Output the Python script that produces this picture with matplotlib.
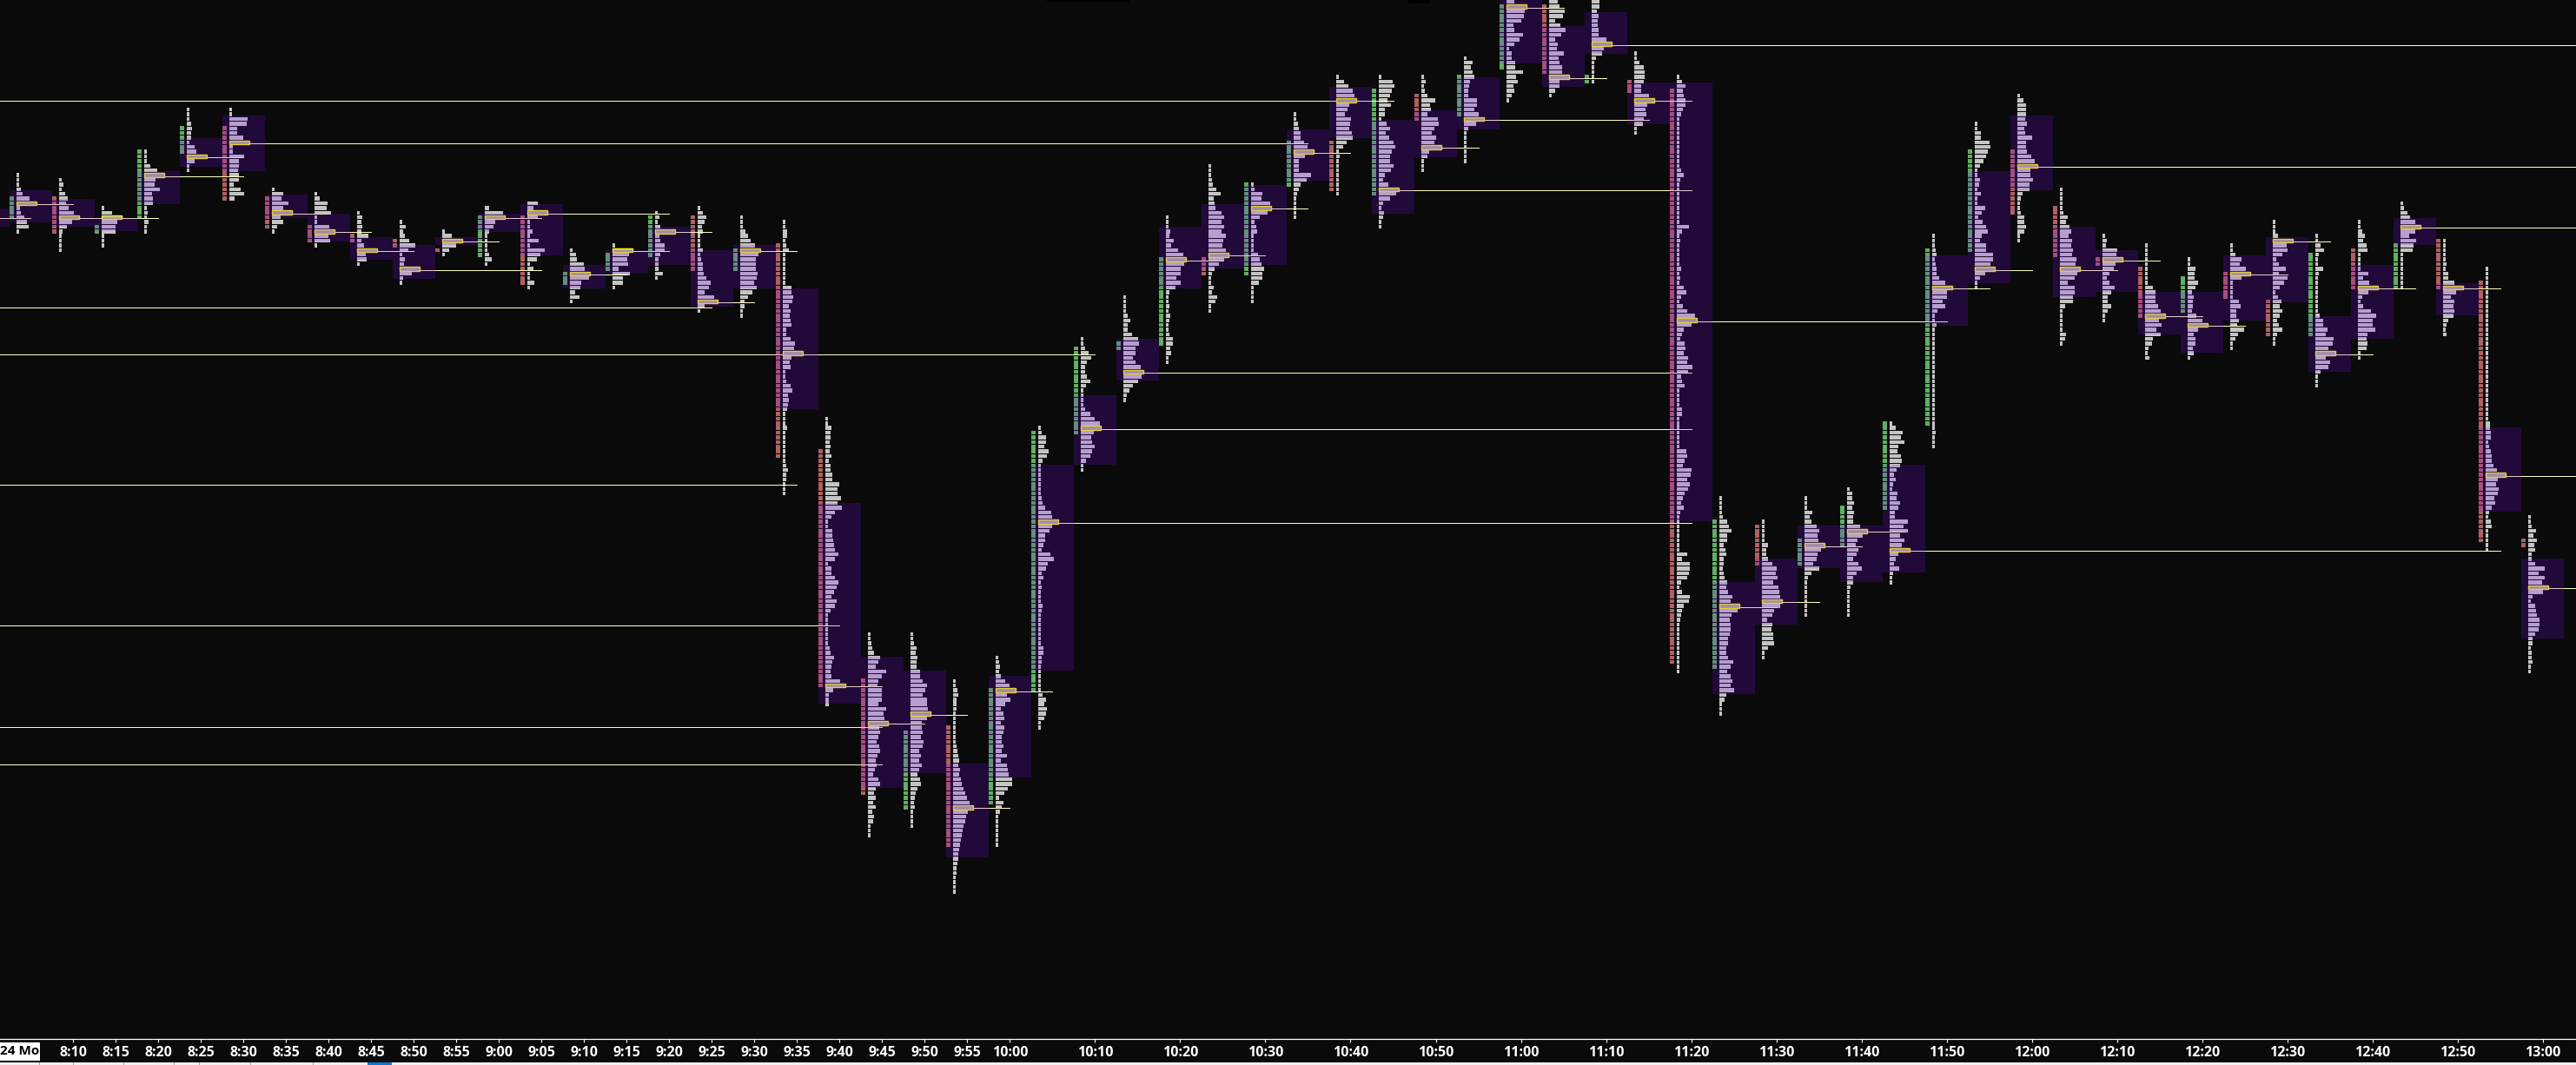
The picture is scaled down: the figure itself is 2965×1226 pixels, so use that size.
import matplotlib
matplotlib.use("Agg")
import matplotlib.pyplot as plt
from matplotlib.patches import Rectangle

# Session start of each 5 minute column, minutes after midnight (8:00 is only half on screen)
col_times = [480, 485, 490, 495, 500, 505, 510, 515, 520, 525, 530, 535, 540, 545, 550, 555,
             560, 565, 570, 575, 580, 585, 590, 595, 600, 605, 610, 615, 620, 625, 630, 635,
             640, 645, 650, 655, 660, 665, 670, 675, 680, 685, 690, 695, 700, 705, 710, 715,
             720, 725, 730, 735, 740, 745, 750, 755, 760, 765, 770, 775, 780]

# Price rows are counted down from the top of the screen
top_rows = [46, 37, 38, 44, 32, 23, 23, 40, 41, 45, 47, 49, 44, 43, 53, 52, 45, 44, 46, 47,
            89, 135, 135, 145, 140, 91, 72, 63, 46, 35, 39, 24, 16, 16, 16, 12, 0, 0, 0, 11,
            16, 106, 111, 106, 104, 90, 50, 26, 20, 40, 50, 52, 55, 52, 47, 50, 47, 43, 51, 57, 110]
poc_rows = [46, 43, 46, 46, 37, 33, 30, 45, 49, 53, 57, 51, 46, 45, 58, 53, 49, 64, 53, 75,
            146, 154, 152, 172, 147, 111, 91, 79, 55, 54, 44, 32, 21, 40, 31, 25, 1, 16, 9, 21,
            68, 129, 128, 116, 113, 117, 61, 57, 35, 57, 55, 67, 69, 58, 51, 75, 61, 48, 61, 101, 125]

# Open levels run on to the column that traded through them, None means still open
poc_end_times = [485, 490, 495, 500, 510, 510, 635, 520, 525, 530, 545, 540, 545, 560, 555, 560,
                 565, 570, 575, 610, 585, 590, 595, 600, 605, 680, 680, 680, 625, 630, 635, 640,
                 645, 680, 655, 675, 665, 670, None, 680, 710, 690, 695, 700, 705, 775, 715, 720,
                 None, 730, 735, 740, 745, 750, 755, 760, 765, None, 775, None, None]

va_tops = [44.1, 40.2, 42.1, 46.2, 36.2, 29.1, 24.3, 41.1, 45.2, 50.2, 52.0, 50.2, 45.2, 43.1, 56.1, 53.1, 48.1, 53.1,
           52.0, 61.1, 107.0, 139.8, 142.8, 162.7, 143.9, 98.9, 84.1, 72.0, 48.1, 43.1, 39.1, 27.2, 18.2, 25.2, 23.1,
           16.1, -1.0, 5.2, 2.2, 17.2, 17.2, 123.9, 118.9, 111.9, 111.9, 98.9, 54.1, 36.1, 24.3, 48.1, 53.1, 62.0, 62.0,
           54.1, 50.2, 67.1, 56.1, 46.1, 60.0, 90.9, 118.9]
va_bots = [48.1, 47.0, 48.1, 49.0, 43.1, 35.2, 36.1, 46.1, 51.1, 55.0, 59.1, 52.0, 49.1, 54.1, 61.1, 58.1, 56.1, 65.0,
           61.1, 87.0, 149.8, 167.8, 164.8, 182.8, 165.7, 142.8, 98.9, 80.9, 61.1, 57.0, 56.1, 38.2, 29.0, 45.2, 33.1,
           27.2, 13.1, 18.1, 11.1, 26.1, 110.9, 147.8, 133.0, 120.9, 123.9, 121.9, 69.1, 60.0, 40.2, 63.1, 62.0, 71.1, 75.0,
           68.0, 64.1, 79.0, 72.0, 52.0, 67.0, 108.9, 136.0]

# Sidebar of each column: first row, last row and direction (1 up, -1 down)
side_tops = [0, 42, 42, 48, 32, 27, 27, 42, 48, 50, 51, 53, 46, 46, 58, 54, 46, 46, 53, 52, 96, 145, 156, 155, 147,
             92, 74, 73, 55, 55, 39, 30, 30, 19, 20, 16, 1, 1, 16, 17, 19, 111, 112, 115, 108, 90, 53, 32, 32, 44, 55,
             57, 59, 58, 64, 54, 53, 52, 51, 60, 115]
side_bots = [-1, 46, 49, 49, 46, 32, 42, 48, 51, 51, 52, 53, 54, 60, 60, 57, 54, 57, 57, 97, 146, 169, 172, 180, 171,
             147, 92, 74, 73, 58, 58, 39, 40, 41, 25, 24, 14, 15, 17, 19, 141, 142, 120, 120, 116, 108, 90, 53, 45, 54,
             56, 67, 66, 63, 71, 71, 61, 61, 61, 115, 116]
side_dirs = [1, 1, -1, 1, 1, 1, -1, -1, -1, -1, -1, -1, 1, -1, 1, 1, 1, -1, 1, -1, -1, -1, 1, -1, 1,
             1, 1, 1, 1, -1, 1, 1, -1, 1, -1, 1, 1, -1, 1, -1, -1, 1, -1, 1, 1, 1, 1, 1, -1, -1,
             -1, -1, 1, -1, -1, 1, -1, 1, -1, -1, -1]

# Volume at each price row, one list per column
profiles = [
    [],
    [3, 3, 3, 5, 7, 15, 23, 4, 5, 9, 12, 14, 3],
    [3, 5, 3, 7, 10, 8, 11, 17, 23, 15, 9, 4, 3, 3, 3, 3],
    [3, 12, 23, 18, 16, 16, 3, 3, 3],
    [3, 3, 3, 7, 15, 23, 13, 12, 18, 9, 10, 10, 3, 4, 3, 5, 3, 3],
    [3, 3, 3, 5, 6, 5, 5, 3, 9, 11, 23, 9, 3, 3],
    [3, 3, 21, 20, 9, 9, 16, 23, 4, 4, 17, 11, 11, 10, 11, 11, 5, 13, 17, 6],
    [3, 13, 11, 19, 13, 23, 10, 13, 6, 3],
    [3, 6, 15, 14, 19, 3, 3, 17, 23, 16, 18, 3],
    [3, 6, 5, 6, 5, 13, 5, 8, 23, 10, 11, 3],
    [3, 7, 4, 6, 11, 18, 10, 3, 6, 5, 23, 14, 4, 3],
    [3, 11, 23, 16, 8, 3],
    [5, 21, 23, 12, 10, 5, 3, 3, 3, 3, 5, 8, 3],
    [12, 7, 23, 12, 3, 3, 6, 3, 13, 3, 20, 15, 11, 3, 7, 3, 3, 8, 3],
    [3, 7, 8, 16, 17, 23, 22, 13, 12, 6, 11, 3],
    [3, 23, 19, 17, 18, 7, 20, 12, 12, 3],
    [3, 5, 3, 6, 23, 5, 6, 11, 11, 6, 4, 4, 4, 9, 3],
    [3, 6, 10, 8, 5, 6, 3, 3, 3, 6, 3, 4, 6, 6, 7, 10, 15, 13, 8, 19, 23, 8, 3],
    [3, 3, 3, 6, 9, 12, 17, 23, 21, 18, 18, 18, 20, 19, 16, 19, 14, 9, 5, 5, 3, 3],
    [3, 3, 5, 5, 3, 4, 7, 3, 3, 3, 3, 3, 3, 3, 10, 10, 12, 11, 7, 9, 8, 9, 10, 4, 4, 9, 14, 13, 23,
     10, 8, 9, 3, 3, 4, 9, 11, 6, 7, 6, 5, 3, 3, 3, 5, 3, 3, 3, 3, 3, 3, 3, 4, 6, 4, 4, 3, 3, 3],
    [3, 3, 7, 6, 6, 5, 6, 5, 7, 4, 6, 6, 8, 8, 16, 14, 14, 18, 14, 19, 11, 7, 3, 3, 8, 8, 9, 10, 11, 15, 11, 3,
     7, 7, 11, 15, 13, 10, 7, 13, 11, 6, 3, 3, 3, 3, 3, 3, 3, 5, 6, 10, 8, 7, 6, 7, 17, 23, 9, 4, 4, 4],
    [3, 3, 4, 5, 7, 14, 12, 9, 21, 16, 12, 11, 16, 16, 16, 12, 21, 18, 19, 23, 13,
     14, 12, 10, 13, 14, 11, 9, 10, 8, 6, 12, 14, 9, 7, 9, 6, 9, 5, 7, 6, 3, 3, 3],
    [3, 3, 4, 7, 6, 8, 7, 7, 11, 11, 14, 19, 17, 14, 19, 19, 20, 23, 19, 13, 13,
     14, 12, 15, 14, 10, 12, 10, 13, 10, 8, 11, 12, 8, 6, 5, 4, 5, 3, 3, 3, 3],
    [3, 3, 5, 6, 4, 4, 4, 3, 3, 3, 3, 3, 3, 3, 4, 5, 6, 7, 6, 8, 7, 9, 10, 12, 14, 16, 19, 23,
     17, 15, 14, 12, 11, 10, 9, 8, 7, 6, 6, 5, 4, 4, 3, 3, 3, 3],
    [3, 4, 5, 4, 6, 11, 16, 23, 13, 17, 11, 6, 9, 10, 6, 10, 9, 7, 7, 9, 7, 13, 6, 13, 14, 15, 19, 19, 14, 10, 4,
     9, 7, 5, 3, 3, 3, 3, 3, 3, 3],
    [3, 4, 9, 9, 7, 12, 10, 5, 3, 3, 3, 3, 3, 3, 3, 4, 5, 8, 15, 16, 23, 16, 13, 8, 8, 6, 4, 14, 18, 11, 9, 4, 6, 3,
     4, 3, 3, 3, 5, 4, 3, 3, 3, 3, 3, 3, 3, 6, 6, 4, 4, 3, 3, 3, 3, 3, 3, 5, 9, 7, 10, 9, 7, 3, 3],
    [3, 3, 5, 9, 12, 7, 5, 5, 7, 11, 6, 3, 3, 3, 3, 5, 11, 16, 22, 23, 15, 12, 13, 16, 13, 11, 6, 3, 3],
    [3, 3, 3, 3, 5, 8, 5, 5, 10, 17, 18, 14, 14, 11, 14, 20, 23, 21, 17, 11, 7, 4, 3],
    [3, 3, 3, 5, 4, 9, 6, 14, 20, 23, 21, 17, 17, 12, 17, 11, 4, 3, 3, 4, 3, 5, 4, 3, 3, 4, 8, 8, 5, 6, 3, 3],
    [3, 3, 3, 4, 5, 9, 14, 6, 7, 8, 15, 18, 15, 18, 15, 20, 17, 16, 20, 23, 18, 12, 7, 4, 3, 3, 6, 4, 10, 8, 3, 3],
    [3, 4, 13, 12, 22, 23, 19, 10, 4, 6, 7, 3, 3, 3, 3, 8, 10, 12, 15, 13, 13, 9, 3, 3, 3, 3],
    [3, 3, 5, 6, 8, 8, 12, 16, 23, 13, 6, 6, 6, 20, 15, 8, 6, 4, 3, 3, 3, 3, 3],
    [3, 9, 14, 19, 21, 23, 15, 13, 10, 17, 16, 15, 18, 19, 12, 8, 3, 4, 3, 3, 3, 3, 3, 3, 3, 3],
    [3, 16, 18, 15, 13, 10, 14, 7, 7, 3, 9, 13, 8, 12, 17, 19, 15, 13, 13, 17, 14, 7, 5, 11, 23, 20, 13, 5, 3, 6, 5, 3, 3],
    [3, 5, 3, 4, 7, 16, 10, 11, 7, 19, 20, 15, 12, 17, 15, 23, 9, 7, 3, 3, 3],
    [3, 10, 8, 10, 12, 7, 6, 5, 5, 15, 15, 12, 17, 23, 14, 5, 3, 3, 3, 3, 3, 3, 3],
    [9, 23, 21, 20, 17, 8, 9, 19, 15, 9, 3, 6, 6, 10, 10, 19, 11, 13, 8, 9, 6, 3],
    [10, 12, 18, 16, 7, 13, 19, 14, 7, 10, 9, 17, 11, 12, 15, 15, 23, 12, 12, 7, 3],
    [9, 9, 6, 8, 7, 7, 8, 8, 17, 23, 14, 12, 5, 3, 3, 3, 3, 3],
    [3, 3, 6, 11, 12, 12, 11, 8, 8, 17, 23, 15, 13, 14, 11, 10, 3, 3],
    [3, 6, 10, 7, 8, 10, 10, 7, 5, 3, 3, 3, 3, 3, 3, 3, 3, 3, 3, 3, 5, 8, 4, 3, 3, 3, 3, 3, 3, 3, 3, 3, 14, 6,
     3, 4, 3, 3, 3, 3, 3, 5, 3, 4, 3, 8, 11, 5, 3, 7, 12, 21, 23,
     17, 8, 6, 4, 9, 10, 8, 13, 12, 18, 13, 5, 6, 9, 3, 3, 3, 3, 6, 6, 3, 3, 3, 3,
     3, 3, 3, 11, 12, 9, 7, 17, 16, 12, 15, 13, 9, 7, 5, 8, 4, 3, 3, 3, 3, 3, 3, 3, 3,
     12, 6, 15, 15, 14, 12, 5, 3, 6, 15, 14, 8, 6, 5, 4, 3, 3, 3, 3, 3, 3, 3, 3, 3, 3, 3],
    [3, 3, 3, 3, 4, 9, 11, 14, 9, 9, 5, 7, 8, 5, 5, 4, 5, 6, 9, 8, 10, 15, 13, 23, 21, 14, 12, 13, 13, 12, 10, 10, 8, 8,
     10, 16, 13, 9, 13, 15, 13, 17, 8, 6, 3, 3, 3],
    [3, 3, 3, 3, 3, 7, 5, 5, 7, 12, 17, 16, 18, 13, 19, 20, 21, 23, 21, 14, 12, 6, 12, 11, 13, 13, 14, 7, 3, 3],
    [3, 3, 3, 9, 6, 8, 14, 17, 15, 16, 23, 19, 15, 14, 10, 17, 8, 4, 3, 3, 3, 3, 3, 3, 3, 3],
    [3, 6, 6, 8, 6, 8, 7, 7, 15, 23, 18, 12, 10, 13, 11, 7, 13, 17, 11, 7, 7, 4, 3, 3, 3, 3, 3, 3],
    [3, 7, 15, 13, 17, 10, 9, 13, 14, 12, 8, 5, 7, 4, 3, 9, 8, 12, 10, 6, 6, 21, 16, 21, 12, 17, 14, 23, 10, 7, 5, 11, 4, 3, 3],
    [3, 3, 3, 4, 5, 3, 4, 5, 5, 8, 15, 23, 17, 17, 12, 15, 6, 3, 3, 5,
     3, 3, 3, 3, 3, 3, 3, 3, 3, 3, 3, 3, 3, 3, 3, 3, 3, 3, 3, 3, 3, 3, 4, 3, 3, 3],
    [3, 3, 7, 7, 17, 18, 15, 13, 10, 6, 3, 3, 6, 5, 3, 7, 3, 3, 12, 8, 4, 9, 13, 15, 8, 6, 13, 13, 21, 21, 18, 23, 12, 6, 3, 3],
    [3, 7, 10, 10, 10, 9, 11, 8, 9, 17, 10, 10, 11, 16, 20, 23, 15, 15, 18, 14, 14, 6, 4, 3, 3, 4, 8, 8, 10, 8, 3, 3],
    [3, 3, 3, 3, 3, 4, 9, 7, 11, 13, 10, 14, 13, 15, 14, 19, 18, 23, 20, 17, 9, 17, 17, 15, 15, 6, 3, 3, 3, 3, 3, 7, 6, 3],
    [3, 5, 4, 17, 16, 23, 15, 13, 8, 5, 8, 14, 10, 6, 6, 10, 6, 3, 3],
    [3, 3, 3, 3, 3, 3, 3, 3, 3, 9, 12, 12, 12, 15, 18, 23, 16, 19, 13, 18, 9, 8, 4, 3, 5],
    [3, 3, 9, 8, 8, 12, 9, 5, 7, 6, 6, 5, 10, 17, 23, 12, 7, 9, 9, 6, 7, 3],
    [3, 3, 6, 13, 11, 18, 23, 13, 3, 3, 3, 3, 10, 12, 7, 7, 10, 8, 16, 9, 6, 3, 3],
    [3, 3, 3, 6, 23, 16, 17, 11, 4, 7, 15, 7, 17, 13, 8, 3, 6, 10, 8, 11, 8, 5, 7, 11, 5, 3, 3],
    [3, 3, 6, 10, 4, 3, 3, 9, 4, 3, 3, 3, 3, 3, 3, 3, 3, 5, 9, 9, 14, 12, 21, 20, 15, 23, 12, 17, 15, 6, 3, 3, 3],
    [3, 3, 5, 8, 6, 10, 11, 3, 3, 3, 3, 12, 6, 13, 23, 12, 5, 3, 6, 15, 21, 17, 17, 20, 11, 10, 11, 10, 3, 3],
    [3, 4, 8, 11, 17, 23, 17, 10, 18, 15, 14, 3, 3, 3, 3, 3, 3, 3, 3],
    [3, 3, 3, 3, 3, 4, 3, 6, 6, 13, 23, 15, 9, 13, 12, 13, 12, 6, 4, 3, 4],
    [3, 3, 3, 3, 3, 3, 3, 3, 3, 3, 3, 3, 3, 3, 3, 3, 3, 3, 3, 3, 3, 3, 3, 3, 3, 3, 3, 3, 3, 3, 3, 3, 3,
     5, 5, 6, 6, 3, 4, 6, 7, 7, 9, 13, 23, 14, 12, 15, 14, 10, 11, 7, 4, 3, 6, 7, 3, 3, 3, 3, 3],
    [3, 3, 4, 9, 6, 10, 7, 8, 4, 4, 8, 19, 12, 19, 16, 23, 17, 5, 3, 8, 9, 10, 13, 13, 12, 8, 5, 5, 3, 4, 4, 5, 3, 3],
]

# Point of control levels left open by sessions that started before the screen
old_poc_rows = [21, 65, 75, 103, 133, 154.7, 162.7]
old_poc_ends = [645, 565, 575, 575, 580, 585, 585]

tick_labels = ["8:10", "8:15", "8:20", "8:25", "8:30", "8:35", "8:40", "8:45", "8:50", "8:55",
               "9:00", "9:05", "9:10", "9:15", "9:20", "9:25", "9:30", "9:35", "9:40", "9:45",
               "9:50", "9:55", "10:00", "10:10", "10:20", "10:30", "10:40", "10:50", "11:00",
               "11:10", "11:20", "11:30", "11:40", "11:50", "12:00", "12:10", "12:20", "12:30",
               "12:40", "12:50", "13:00"]

# Colours seen on the reference
BG = "#0a0a0a"
GREY = "#c4c4c4"
GREEN = "#5fb060"
RED = "#b06060"
LINE = "#fffdc0"
VA = (130 / 255, 10 / 255, 250 / 255)

PX = 5 / 49  # minutes per pixel
ROW_PX = 5.39

fig = plt.figure(figsize=(29.65, 12.26), dpi=100, facecolor=BG)
ax = fig.add_axes([0, 30 / 1226, 1, 1196 / 1226], facecolor=BG)

x_left = 485 - 35.5 * PX
x_right = x_left + 2965 * PX
ax.set_xlim(x_left, x_right)
ax.set_ylim((1196 - 2.2) / ROW_PX, -2.2 / ROW_PX)

# Old levels from the left edge
for row, end in zip(old_poc_rows, old_poc_ends):
    ax.plot([x_left, end], [row + 0.2, row + 0.2], color=LINE, lw=0.72, antialiased=False, zorder=3)

for i, t in enumerate(col_times):
    x0 = t - 24.5 * PX
    bars_x = x0 + 8 * PX
    widths = [w * PX for w in profiles[i]]
    rows = [top_rows[i] + n for n in range(len(widths))]

    ax.barh(rows, widths, left=bars_x, height=0.82, color=GREY, antialiased=False, zorder=2)

    # Sidebar letters of the column
    side = list(range(side_tops[i], side_bots[i] + 1))
    if side:
        ax.barh(side, 5 * PX, left=x0, height=0.85, color=GREEN if side_dirs[i] > 0 else RED,
                antialiased=False, zorder=2)

    poc = poc_rows[i]

    # Line from the box to where the level got traded
    end = poc_end_times[i] if poc_end_times[i] is not None else x_right
    ax.plot([bars_x + 23 * PX, end], [poc + 0.2, poc + 0.2], color=LINE, lw=0.72, antialiased=False, zorder=3)
    ax.add_patch(Rectangle((bars_x, poc - 0.42), 23 * PX, 0.84, facecolor="#a9a9a9", edgecolor="#ffff00",
                           lw=1.0, zorder=3))

    # Value area goes over everything, that gives the lavender and teal tones
    ax.add_patch(Rectangle((x0, va_tops[i]), 5, va_bots[i] - va_tops[i], facecolor=VA, alpha=0.2,
                           edgecolor="none", antialiased=False, zorder=4))

# Time axis
tick_times = [int(s.split(":")[0]) * 60 + int(s.split(":")[1]) for s in tick_labels]
ax.set_xticks(tick_times, tick_labels)
ax.set_yticks([])
ax.tick_params(axis="x", colors="white", length=3, width=0.8, pad=3, labelsize=11.5)
for lab in ax.get_xticklabels():
    lab.set_fontfamily("Open Sans")
    lab.set_fontweight("bold")
for name in ["top", "left", "right"]:
    ax.spines[name].set_visible(False)
ax.spines["bottom"].set_color("white")
ax.spines["bottom"].set_linewidth(0.9)

# Window furniture around the chart, in pixels
chrome = fig.add_axes([0, 0, 1, 1], facecolor="none")
chrome.set_xlim(0, 2965)
chrome.set_ylim(1226, 0)
chrome.axis("off")
chrome.add_patch(Rectangle((0, 1200), 46, 21, color="white", lw=0))
chrome.text(0, 1210, "24 Mo", color="black", fontsize=11, fontfamily="Open Sans", fontweight="bold",
            ha="left", va="center")
chrome.add_patch(Rectangle((0, 1223), 2965, 3, color="#f0f0f0", lw=0))
for sep in [45, 84, 142, 200, 229, 288, 360]:
    chrome.plot([sep, sep], [1223, 1226], color="#a0a0a0", lw=0.7)
chrome.add_patch(Rectangle((423, 1223), 28, 3, color="#0a78d7", lw=0))
chrome.add_patch(Rectangle((1205, 0), 95, 2, color="black", lw=0))
chrome.add_patch(Rectangle((1621, 0), 25, 4, color="black", lw=0))

fig.savefig("out.png", dpi=100, facecolor=BG)
